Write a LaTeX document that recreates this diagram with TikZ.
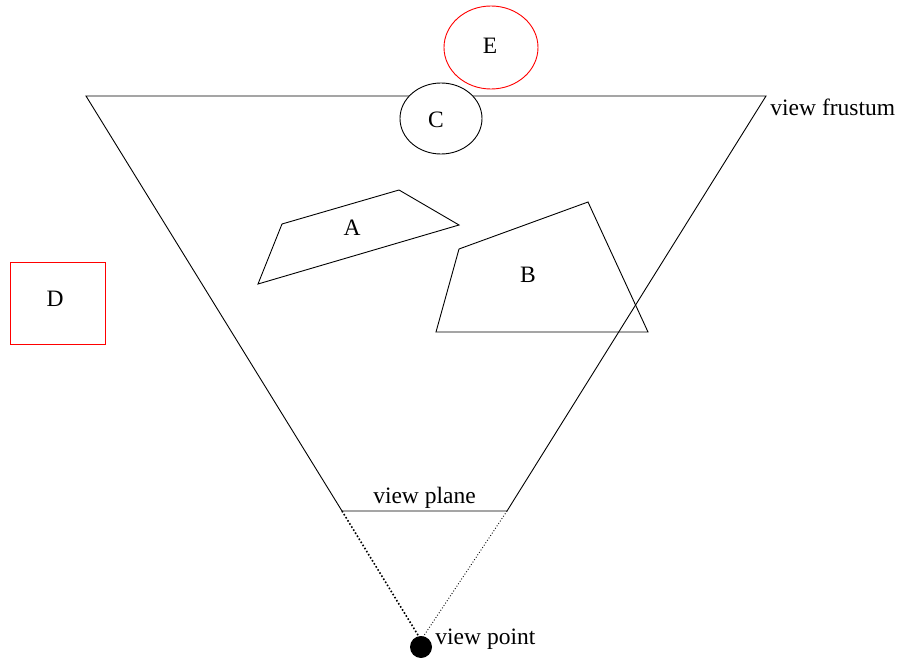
\documentclass[tikz,border=0pt]{standalone}
\usepackage{fontspec}
\setmainfont{Liberation Serif}
\usepackage{tikz}
\usetikzlibrary{calc}
\begin{document}
\begin{tikzpicture}[x=1pt,y=-1pt,font=\fontsize{23.5}{26}\selectfont,line width=0.9pt]
\useasboundingbox (0,0) rectangle (897,658);
% Frustum
\coordinate (tl) at (86,96);
\coordinate (tr) at (766,96);
\coordinate (pl) at (342,511);
\coordinate (pr) at (507,511);
\coordinate (vp) at (421,640);
\draw (tl) -- (tr) -- (pr) -- (pl) -- cycle;
\draw[dotted,line width=1.6pt] (pl) -- (vp);
\draw[dotted] (pr) -- (vp);
\fill (421,647) circle (11pt);
% Objetos
\draw (258,284) -- (282,224) -- (399,190) -- (459,225) -- cycle;
\draw (436,332) -- (459,249) -- (588,202) -- (648,332) -- cycle;
\draw[fill=white] (441,118.5) ellipse (41pt and 35.5pt);
\draw[red] (491,47.5) ellipse (47pt and 41.5pt);
\draw[red] (10,262) rectangle (105,344);
% Etiquetas
\node (labA) at (352,228) {A};
\node (labB) at (528,275) {B};
\node (labC) at (436,120) {C};
\node (labD) at (55,299) {D};
\node (labE) at (490,46) {E};
\node[anchor=west,inner sep=0pt] (labF) at (770,107) {view frustum};
\node[above,inner sep=2pt] (labP) at ($(pl)!0.5!(pr)$) {view plane};
\node[anchor=west,inner sep=0pt] (labV) at (435,639) {view point};
\end{tikzpicture}
\end{document}
